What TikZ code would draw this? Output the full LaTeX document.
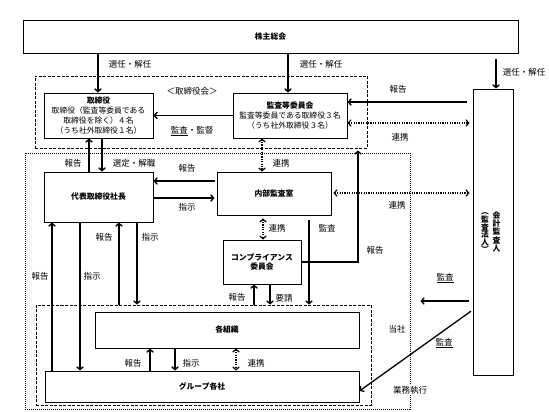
\documentclass[tikz,border=0pt]{standalone}
\usepackage{fontspec}
\setmainfont{Noto Sans CJK JP}
\usetikzlibrary{arrows.meta}

\begin{document}
\begin{tikzpicture}[x=1pt,y=-1pt,
  box/.style={draw,line width=0.8pt,align=center,inner sep=1pt,font=\fontsize{7.8}{9.8}\selectfont},
  area/.style={draw,line width=0.7pt,dash pattern=on 3pt off 1.5pt,inner sep=0pt},
  zone/.style={draw,line width=0.7pt,dash pattern=on 1pt off 1pt,inner sep=0pt},
  arr/.style={-{Straight Barb[length=3pt,width=6.5pt]},line width=1.3pt},
  link/.style={{Straight Barb[length=3pt,width=6.5pt]}-{Straight Barb[length=3pt,width=6.5pt]},line width=1.1pt,dash pattern=on 1.2pt off 1.2pt},
  lbl/.style={inner sep=1pt,font=\fontsize{8.5}{10}\selectfont}]
\useasboundingbox (0,0) rectangle (549,412);

\node[zone,minimum width=385pt,minimum height=256pt] (tousha) at (217.5,281) {};
\node[area,minimum width=332pt,minimum height=72pt] (board) at (201,112) {};
\node[area,minimum width=335pt,minimum height=100pt] (grparea) at (203.5,355) {};

\node[box,minimum width=495pt,minimum height=33pt] (soukai) at (270.5,36.5) {\bfseries 株主総会};
\node[box,minimum width=109pt,minimum height=45pt] (tori) at (98.5,115.5)
  {\textbf{取締役}\\取締役（監査等委員である\\取締役を除く）４名\\（うち社外取締役１名）};
\node[box,minimum width=114pt,minimum height=45pt] (kansa) at (290,115.5)
  {\textbf{監査等委員会}\\監査等委員である取締役３名\\（うち社外取締役３名）};
\node[box,minimum width=109pt,minimum height=50pt] (shacho) at (98.5,197) {\bfseries 代表取締役社長};
\node[box,minimum width=114pt,minimum height=43pt] (naibu) at (274,193.5) {\bfseries 内部監査室};
\node[box,minimum width=78pt,minimum height=44pt] (comp) at (262,262) {\bfseries コンプライアンス\\\bfseries 委員会};
\node[box,minimum width=264pt,minimum height=36pt] (soshiki) at (227,330) {\bfseries 各組織};
\node[box,minimum width=314pt,minimum height=31pt] (group) at (202,386.5) {\bfseries グループ各社};
\node[box,minimum width=40pt,minimum height=286pt] (kaikei) at (493,232) {};
\node[align=center,inner sep=0pt,font=\fontsize{7.8}{8.3}\bfseries] (kaikeiA) at (496.5,232) {会\\計\\監\\査\\人};
\node[align=center,inner sep=0pt,font=\fontsize{7.8}{7.6}\bfseries] (kaikeiB) at (485,233) {︵\\監\\査\\法\\人\\︶};

\draw[arr] (soukai.south -| 98,0) -- (tori.north -| 98,0);
\draw[arr] (soukai.south -| 288,0) -- (kansa.north -| 288,0);
\draw[arr,shorten <=6pt] (soukai.south -| 496,0) -- (kaikei.north -| 496,0);
\draw[arr] (kansa.west) -- (tori.east);
\draw[arr,shorten <=6pt] (kaikei.west |- 0,102) -- (kansa.east |- 0,102);
\draw[link,shorten >=3pt] (kansa.east |- 0,123) -- (kaikei.west |- 0,123);
\draw[arr] (shacho.north -| 89,0) -- (tori.south -| 89,0);
\draw[arr] (tori.south -| 102,0) -- (shacho.north -| 102,0);
\draw[link] (kansa.south -| 262,0) -- (naibu.north -| 262,0);
\draw[arr,shorten <=2pt] (naibu.west |- 0,181) -- (shacho.east |- 0,181);
\draw[arr,shorten >=2pt] (shacho.east |- 0,198) -- (naibu.west |- 0,198);
\draw[link,shorten <=2pt,shorten >=3pt] (naibu.east |- 0,193) -- (kaikei.west |- 0,193);
\draw[link,shorten <=3pt] (naibu.south -| 263,0) -- (comp.north -| 263,0);
\draw[arr,shorten <=5pt] (naibu.south -| 309,0) -- (grparea.north -| 309,0);
\draw[arr,shorten >=2pt] (comp.east |- 0,262) -| (board.south -| 358,0);
\draw[arr,shorten <=4pt,shorten >=10pt] (kaikei.west |- 0,301) -- (tousha.east |- 0,301);
\draw[arr,shorten <=2pt] (kaikei.west |- 0,310) -- (group.east |- 0,391);
\draw[arr] (group.north -| 52,0) -- (shacho.south -| 52,0);
\draw[arr] (shacho.south -| 80,0) -- (group.north -| 80,0);
\draw[arr] (grparea.north -| 119,0) -- (shacho.south -| 119,0);
\draw[arr] (shacho.south -| 137,0) -- (grparea.north -| 137,0);
\draw[arr] (grparea.north -| 254,0) -- (comp.south -| 254,0);
\draw[arr] (comp.south -| 270,0) -- (grparea.north -| 270,0);
\draw[arr] (group.north -| 150,0) -- (soshiki.south -| 150,0);
\draw[arr] (soshiki.south -| 175,0) -- (group.north -| 175,0);
\draw[link] (soshiki.south -| 236,0) -- (group.north -| 236,0);

\foreach \x/\y/\t [count=\i] in {130/64/選任・解任, 321/64/選任・解任, 524/72/選任・解任,
    192/91/＜取締役会＞, 192/131/\underline{監査}・監督, 398/89/報告, 400/137/連携,
    73/163/報告, 134/163/選定・解職, 281/163/連携, 187/168/報告, 187/207/指示,
    397/205/連携, 277/228/連携, 327/228/監査, 375/250/報告, 445/278/\underline{監査},
    40/276/報告, 92/276/指示, 104/237/報告, 150/237/指示, 237/297/報告, 284/298/要請,
    397/329/当社, 444/343/\underline{監査}, 133/363/報告, 191/363/指示, 256/363/連携}
  \node[lbl] (lab\i) at (\x,\y) {\t};
\node[lbl,fill=white] (gyomu) at (410,390) {業務執行};
\end{tikzpicture}
\end{document}
